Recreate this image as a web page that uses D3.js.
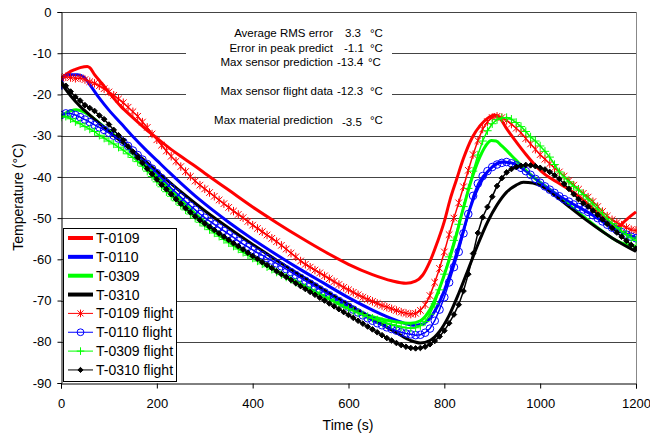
<!DOCTYPE html>
<html><head><meta charset="utf-8">
<script src="https://cdn.jsdelivr.net/npm/d3@7"></script>
<style>body{margin:0;background:#fff}svg text{font-family:Arial,"Liberation Sans",sans-serif;fill:#000}</style>
</head><body><svg id="c" width="650" height="439"></svg>
<script>
// ---------- DATA ----------
const seriesNames = ["T-0109","T-0110","T-0309","T-0310","T-0109 flight","T-0110 flight","T-0309 flight","T-0310 flight"];
const xTicks = [0,200,400,600,800,1000,1200];
const yTicks = [0,-10,-20,-30,-40,-50,-60,-70,-80,-90];

const annLabels = ["Average RMS error","Error in peak predict","Max sensor prediction","Max sensor flight data","Max material prediction"];
const annValues = ["3.3","-1.1","-13.4","-12.3","-3.5"];
const annUnits  = ["°C","°C","°C","°C","°C"];

// model predictions (time s, temperature °C)
const t0109Time = [0,10,20,30,40,55,60,70,85,100,125,150,175,200,225,250,275,300,350,400,450,500,550,600,650,690,720,740,755,770,785,800,812,825,840,858,875,890,905,915,930,950,970,990,1010,1040,1070,1100,1130,1150,1162,1175,1188,1200];
const t0109Temp = [-16,-15.2,-14.4,-13.9,-13.5,-13.2,-13.5,-15.2,-17.3,-19.5,-22.9,-25.6,-28.2,-30.6,-32.9,-35.0,-37.0,-39.1,-43.2,-47.3,-51.1,-54.7,-58.1,-61.2,-63.7,-65.2,-65.8,-65.3,-63.8,-60.5,-56,-50.8,-45.5,-40.8,-35.5,-30.5,-27.5,-25.8,-25.0,-25.6,-28.3,-31.5,-34.5,-37.2,-39.4,-41.6,-43.8,-46.6,-49.6,-51.6,-52.1,-50.9,-49.6,-48.5];

const t0110Time = [0,4,10,20,35,48,60,80,100,125,150,175,200,225,250,290,350,400,450,500,550,600,650,700,735,755,775,795,815,835,850,865,880,900,920,940,960,990,1020,1050,1080,1110,1140,1170,1200];
const t0110Temp = [-18.8,-16,-15.4,-15.2,-15.2,-15.8,-17.6,-20.9,-23.8,-27,-30.2,-33.2,-36.0,-38.8,-41.5,-45.6,-51,-55.1,-58.9,-62.5,-65.9,-69.3,-72.3,-74.8,-76,-75.7,-73.5,-69,-62.5,-55,-49,-44,-40.5,-37.6,-36.4,-36.6,-37.7,-40.4,-43,-45.4,-47.3,-49.3,-51.6,-53.4,-54.8];

const t0309Time = [0,10,20,32,45,60,80,100,130,160,200,250,300,350,400,450,500,550,600,650,700,730,750,770,790,805,820,838,858,878,890,898,908,920,940,960,980,1000,1030,1070,1100,1130,1160,1180,1200];
const t0309Temp = [-25.4,-24.5,-24.0,-23.7,-24.1,-25.1,-26.9,-28.8,-31.8,-35.1,-39.8,-45.6,-50.9,-55.4,-59.3,-62.8,-66,-69,-71.7,-73.9,-75.2,-75.5,-74.9,-72.2,-67,-62,-56.3,-48.3,-40.2,-34.2,-31.9,-31.2,-31.3,-32.5,-34.8,-37.2,-39.5,-41.4,-44,-47.7,-50.5,-53.2,-55.5,-56.4,-56.9];

const t0310Time = [0,20,40,60,80,100,130,160,200,250,300,350,400,450,500,550,600,650,700,730,750,770,790,810,830,850,870,890,910,930,950,965,985,1005,1030,1060,1100,1150,1200];
const t0310Temp = [-17.2,-20.3,-22.9,-25,-27,-29,-31.8,-34.6,-38.6,-43.6,-48.2,-52.4,-56.4,-60.2,-63.9,-67.5,-71,-74.4,-77.8,-79.7,-80.3,-79.7,-77.5,-73.6,-68.3,-62.4,-56.4,-51,-46.8,-43.7,-42,-41.3,-41.5,-42.4,-44.4,-47.2,-50.8,-54.8,-58.1];

// flight data, sampled every 10 s
const flightTime = [0,10,20,30,40,50,60,70,80,90,100,110,120,130,140,150,160,170,180,190,200,210,220,230,240,250,260,270,280,290,300,310,320,330,340,350,360,370,380,390,400,410,420,430,440,450,460,470,480,490,500,510,520,530,540,550,560,570,580,590,600,610,620,630,640,650,660,670,680,690,700,710,720,730,740,750,760,770,780,790,800,810,820,830,840,850,860,870,880,890,900,910,920,930,940,950,960,970,980,990,1000,1010,1020,1030,1040,1050,1060,1070,1080,1090,1100,1110,1120,1130,1140,1150,1160,1170,1180,1190,1200];

const t0109Flight = [-16.0,-15.7,-15.9,-16.1,-16.0,-16.4,-16.9,-17.3,-17.9,-18.6,
-19.4,-20.2,-21.1,-22.0,-23.1,-24.2,-25.3,-26.7,-28.0,-29.6,
-31.0,-32.3,-33.7,-35.0,-36.2,-37.5,-38.7,-39.9,-41.0,-42.0,
-42.9,-43.8,-44.7,-45.6,-46.5,-47.4,-48.3,-49.1,-49.9,-50.8,
-51.7,-52.5,-53.3,-54.1,-54.9,-55.7,-56.6,-57.5,-58.5,-59.4,
-60.4,-61.2,-61.9,-62.6,-63.3,-64.0,-64.7,-65.4,-66.1,-66.8,
-67.4,-68.0,-68.6,-69.2,-69.7,-70.2,-70.7,-71.2,-71.6,-72.0,
-72.4,-72.8,-73.1,-73.3,-73.1,-72.4,-71.0,-68.8,-65.6,-62.2,
-58.2,-54.0,-50.0,-46.3,-42.4,-38.4,-34.6,-31.2,-28.4,-26.6,
-25.6,-25.3,-25.6,-26.3,-27.2,-28.2,-29.3,-30.7,-32.0,-33.3,
-34.6,-35.7,-36.8,-37.8,-38.8,-39.8,-40.9,-42.0,-43.0,-44.0,
-44.9,-46.0,-47.2,-48.4,-49.5,-50.4,-51.1,-51.7,-52.3,-52.8,
-53.0];

const t0110Flight = [-25.0,-24.6,-24.6,-25.0,-25.5,-26.1,-26.7,-27.4,-28.0,-28.6,
-29.3,-30.0,-30.7,-31.5,-32.5,-33.6,-34.7,-35.8,-36.9,-38.0,
-39.1,-40.3,-41.5,-42.7,-43.8,-44.9,-46.0,-47.0,-48.0,-49.0,
-49.9,-50.7,-51.5,-52.3,-53.1,-53.9,-54.7,-55.5,-56.3,-57.0,
-57.7,-58.4,-59.0,-59.7,-60.3,-61.0,-61.7,-62.4,-63.1,-63.8,
-64.5,-65.2,-65.9,-66.6,-67.3,-68.0,-68.7,-69.4,-70.1,-70.8,
-71.5,-72.2,-72.9,-73.6,-74.3,-74.9,-75.5,-76.0,-76.5,-76.9,
-77.3,-77.7,-78.0,-78.2,-78.4,-78.3,-77.8,-76.8,-74.9,-72.2,
-69.2,-65.6,-61.9,-58.2,-53.7,-49.0,-44.6,-41.6,-39.8,-38.6,
-37.6,-37.0,-36.6,-36.4,-36.7,-37.2,-37.8,-38.6,-39.5,-40.5,
-41.4,-42.3,-43.1,-43.9,-44.7,-45.4,-46.0,-46.7,-47.3,-47.9,
-48.5,-49.3,-50.0,-50.8,-51.6,-52.3,-52.9,-53.4,-54.0,-54.5,
-54.9];

const t0309Flight = [-25.5,-25.3,-25.9,-26.6,-27.1,-27.8,-28.4,-29.0,-29.9,-30.6,
-31.3,-32.0,-32.8,-33.5,-34.4,-35.3,-36.3,-37.4,-38.6,-39.9,
-41.2,-42.4,-43.6,-44.7,-45.8,-46.9,-48.0,-49.0,-50.0,-51.0,
-51.9,-52.8,-53.6,-54.4,-55.2,-56.0,-56.8,-57.5,-58.3,-59.0,
-59.7,-60.4,-61.1,-61.8,-62.4,-63.1,-63.7,-64.3,-64.9,-65.6,
-66.2,-66.8,-67.4,-68.0,-68.6,-69.2,-69.7,-70.3,-70.9,-71.5,
-72.0,-72.5,-73.0,-73.4,-73.9,-74.3,-74.7,-75.1,-75.5,-75.8,
-76.1,-76.4,-76.6,-76.7,-76.6,-76.1,-75.1,-73.3,-70.8,-67.4,
-63.6,-59.4,-55.4,-51.5,-47.2,-42.8,-38.6,-34.7,-31.3,-28.8,
-27.1,-26.1,-25.7,-25.6,-26.0,-26.8,-27.8,-29.0,-30.3,-31.3,
-32.5,-33.8,-35.2,-37.0,-38.8,-40.1,-41.2,-42.3,-43.2,-44.3,
-45.4,-46.6,-47.8,-49.0,-50.2,-51.3,-52.3,-53.2,-54.0,-54.8,
-55.4];

const t0310Flight = [-17.3,-17.9,-19.3,-20.6,-21.5,-22.6,-23.3,-24.0,-25.1,-26.0,
-27.3,-28.6,-29.9,-31.1,-32.6,-33.9,-35.3,-36.6,-38.0,-39.3,
-40.6,-41.9,-43.0,-44.2,-45.4,-46.5,-47.6,-48.6,-49.6,-50.5,
-51.3,-52.1,-52.9,-53.7,-54.5,-55.3,-56.1,-56.8,-57.6,-58.4,
-59.2,-59.9,-60.7,-61.4,-62.1,-62.9,-63.6,-64.3,-65.0,-65.8,
-66.5,-67.2,-67.9,-68.6,-69.3,-70.0,-70.7,-71.4,-72.1,-72.8,
-73.5,-74.2,-74.9,-75.6,-76.3,-77.0,-77.7,-78.4,-79.1,-79.7,
-80.3,-80.8,-81.2,-81.5,-81.6,-81.5,-81.2,-80.6,-79.8,-78.7,
-77.3,-75.5,-73.4,-71.0,-67.7,-63.6,-58.6,-53.6,-49.8,-47.3,
-44.8,-42.2,-40.3,-38.9,-38.1,-37.6,-37.3,-37.1,-37.2,-37.4,
-37.8,-38.2,-38.8,-39.6,-40.5,-41.7,-42.9,-44.2,-45.4,-46.4,
-47.2,-48.2,-49.2,-50.3,-51.4,-52.4,-53.5,-54.5,-55.5,-56.5,
-57.4];

const seriesColors = ["#ff0000","#0000ff","#00ff00","#000000","#ff0000","#0000ff","#00ff00","#000000"];

// ---------- CHART ----------
const svg = d3.select("#c");
const L = 61, R = 636, T = 12, B = 383;
const x = d3.scaleLinear().domain([0,1200]).range([L,R]);
const y = d3.scaleLinear().domain([-90,0]).range([B,T]);

// gridlines
svg.append("g").selectAll("line").data(yTicks.filter(d => d !== -90)).join("line")
  .attr("x1", L).attr("x2", R).attr("y1", d => Math.round(y(d)) + 0.5).attr("y2", d => Math.round(y(d)) + 0.5)
  .attr("stroke", "#444").attr("stroke-width", 1);
// right border
svg.append("line").attr("x1", R + 0.5).attr("x2", R + 0.5).attr("y1", T).attr("y2", B)
  .attr("stroke", "#888").attr("stroke-width", 1);

// annotation background
svg.append("rect").attr("x", 186).attr("y", 19).attr("width", 206).attr("height", 110).attr("fill", "#fff");

// clip
svg.append("clipPath").attr("id", "clip").append("rect").attr("x", L).attr("y", T - 2).attr("width", R - L + 1).attr("height", B - T + 2);
const plot = svg.append("g").attr("clip-path", "url(#clip)");

const lineGen = d3.line().x(d => x(d[0])).y(d => y(d[1])).curve(d3.curveMonotoneX);
const models = [[t0109Time,t0109Temp],[t0110Time,t0110Temp],[t0309Time,t0309Temp],[t0310Time,t0310Temp]];
models.forEach((m, i) => {
  const pts = m[0].map((t, k) => [t, m[1][k]]);
  plot.append("path").datum(pts).attr("d", lineGen).attr("fill", "none")
    .attr("stroke", seriesColors[i]).attr("stroke-width", 3).attr("stroke-linejoin", "round");
});

const markerPaths = [
  "M-3.3,-3.3L3.3,3.3M-3.3,3.3L3.3,-3.3M0,-4.2V4.2",
  "M3.8,0A3.8,3.8 0 1 1 -3.8,0A3.8,3.8 0 1 1 3.8,0Z",
  "M-4.2,0H4.2M0,-4.2V4.2",
  "M0,-2.8L2.8,0L0,2.8L-2.8,0Z"
];
const legendMarkers = [
  "M-3,-3L3,3M-3,3L3,-3M0,-3.8V3.8",
  "M3.4,0A3.4,3.4 0 1 1 -3.4,0A3.4,3.4 0 1 1 3.4,0Z",
  "M-3.8,0H3.8M0,-3.8V3.8",
  "M0,-2.6L2.6,0L0,2.6L-2.6,0Z"
];
const markerFill = ["none","none","none","#000"];
const flights = [t0109Flight, t0110Flight, t0309Flight, t0310Flight];
const flineGen = d3.line().x(d => x(d[0])).y(d => y(d[1]));
flights.forEach((f, i) => {
  const pts = flightTime.map((t, k) => [t, f[k]]);
  const c = seriesColors[i + 4];
  plot.append("path").datum(pts).attr("d", flineGen).attr("fill", "none").attr("stroke", c).attr("stroke-width", 1.5);
  plot.append("g").selectAll("path").data(pts).join("path")
    .attr("transform", d => `translate(${x(d[0])},${y(d[1])})`)
    .attr("d", markerPaths[i]).attr("fill", markerFill[i]).attr("stroke", c).attr("stroke-width", 1);
});

// axes
const yAxis = d3.axisLeft(y).tickValues(yTicks).tickSize(4).tickPadding(6).tickFormat(d => String(d));
const gy = svg.append("g").attr("transform", `translate(${L + 0.5},0)`).call(yAxis);
const xAxis = d3.axisBottom(x).tickValues(xTicks).tickSize(5).tickPadding(10).tickFormat(d => String(d));
const gx = svg.append("g").attr("transform", `translate(0,${B + 0.5})`).call(xAxis);
[gx, gy].forEach(g => {
  g.select(".domain").attr("stroke", "#000");
  g.selectAll(".tick line").attr("stroke", "#000");
  g.selectAll(".tick text").attr("font-size", 13).attr("font-family", "Arial, 'Liberation Sans', sans-serif");
});

// axis titles
svg.append("text").attr("x", 348).attr("y", 430).attr("text-anchor", "middle").attr("font-size", 14).text("Time (s)");
svg.append("text").attr("transform", "translate(23,197) rotate(-90)").attr("text-anchor", "middle").attr("font-size", 14).text("Temperature (°C)");

// annotation text
const annY = [37, 52, 66, 95, 124];
const annValX = [345, 344, 337, 337, 342];
const annValDy = [0, 0, 0, 0, 2];
const annUnitX = [370, 370, 368, 370, 370];
const ann = svg.append("g").attr("font-size", 11.5);
annLabels.forEach((s, i) => {
  ann.append("text").attr("x", 333).attr("y", annY[i]).attr("text-anchor", "end").text(s);
  ann.append("text").attr("x", annValX[i]).attr("y", annY[i] + annValDy[i]).text(annValues[i]);
  ann.append("text").attr("x", annUnitX[i]).attr("y", annY[i]).text(annUnits[i]);
});

// legend
const lg = svg.append("g");
lg.append("rect").attr("x", 63.5).attr("y", 228.5).attr("width", 113).attr("height", 153).attr("fill", "#fff").attr("stroke", "#000");
seriesNames.forEach((s, i) => {
  const cy = 238 + i * 18.85;
  const c = seriesColors[i];
  if (i < 4) {
    lg.append("line").attr("x1", 68).attr("x2", 93).attr("y1", cy).attr("y2", cy).attr("stroke", c).attr("stroke-width", 4);
  } else {
    lg.append("line").attr("x1", 68).attr("x2", 93).attr("y1", cy).attr("y2", cy).attr("stroke", c).attr("stroke-width", 1);
    lg.append("path").attr("transform", `translate(80.5,${cy})`).attr("d", legendMarkers[i - 4])
      .attr("fill", markerFill[i - 4]).attr("stroke", c).attr("stroke-width", 1);
  }
  lg.append("text").attr("x", 96).attr("y", cy + 5).attr("font-size", 14).text(s);
});
</script></body></html>
